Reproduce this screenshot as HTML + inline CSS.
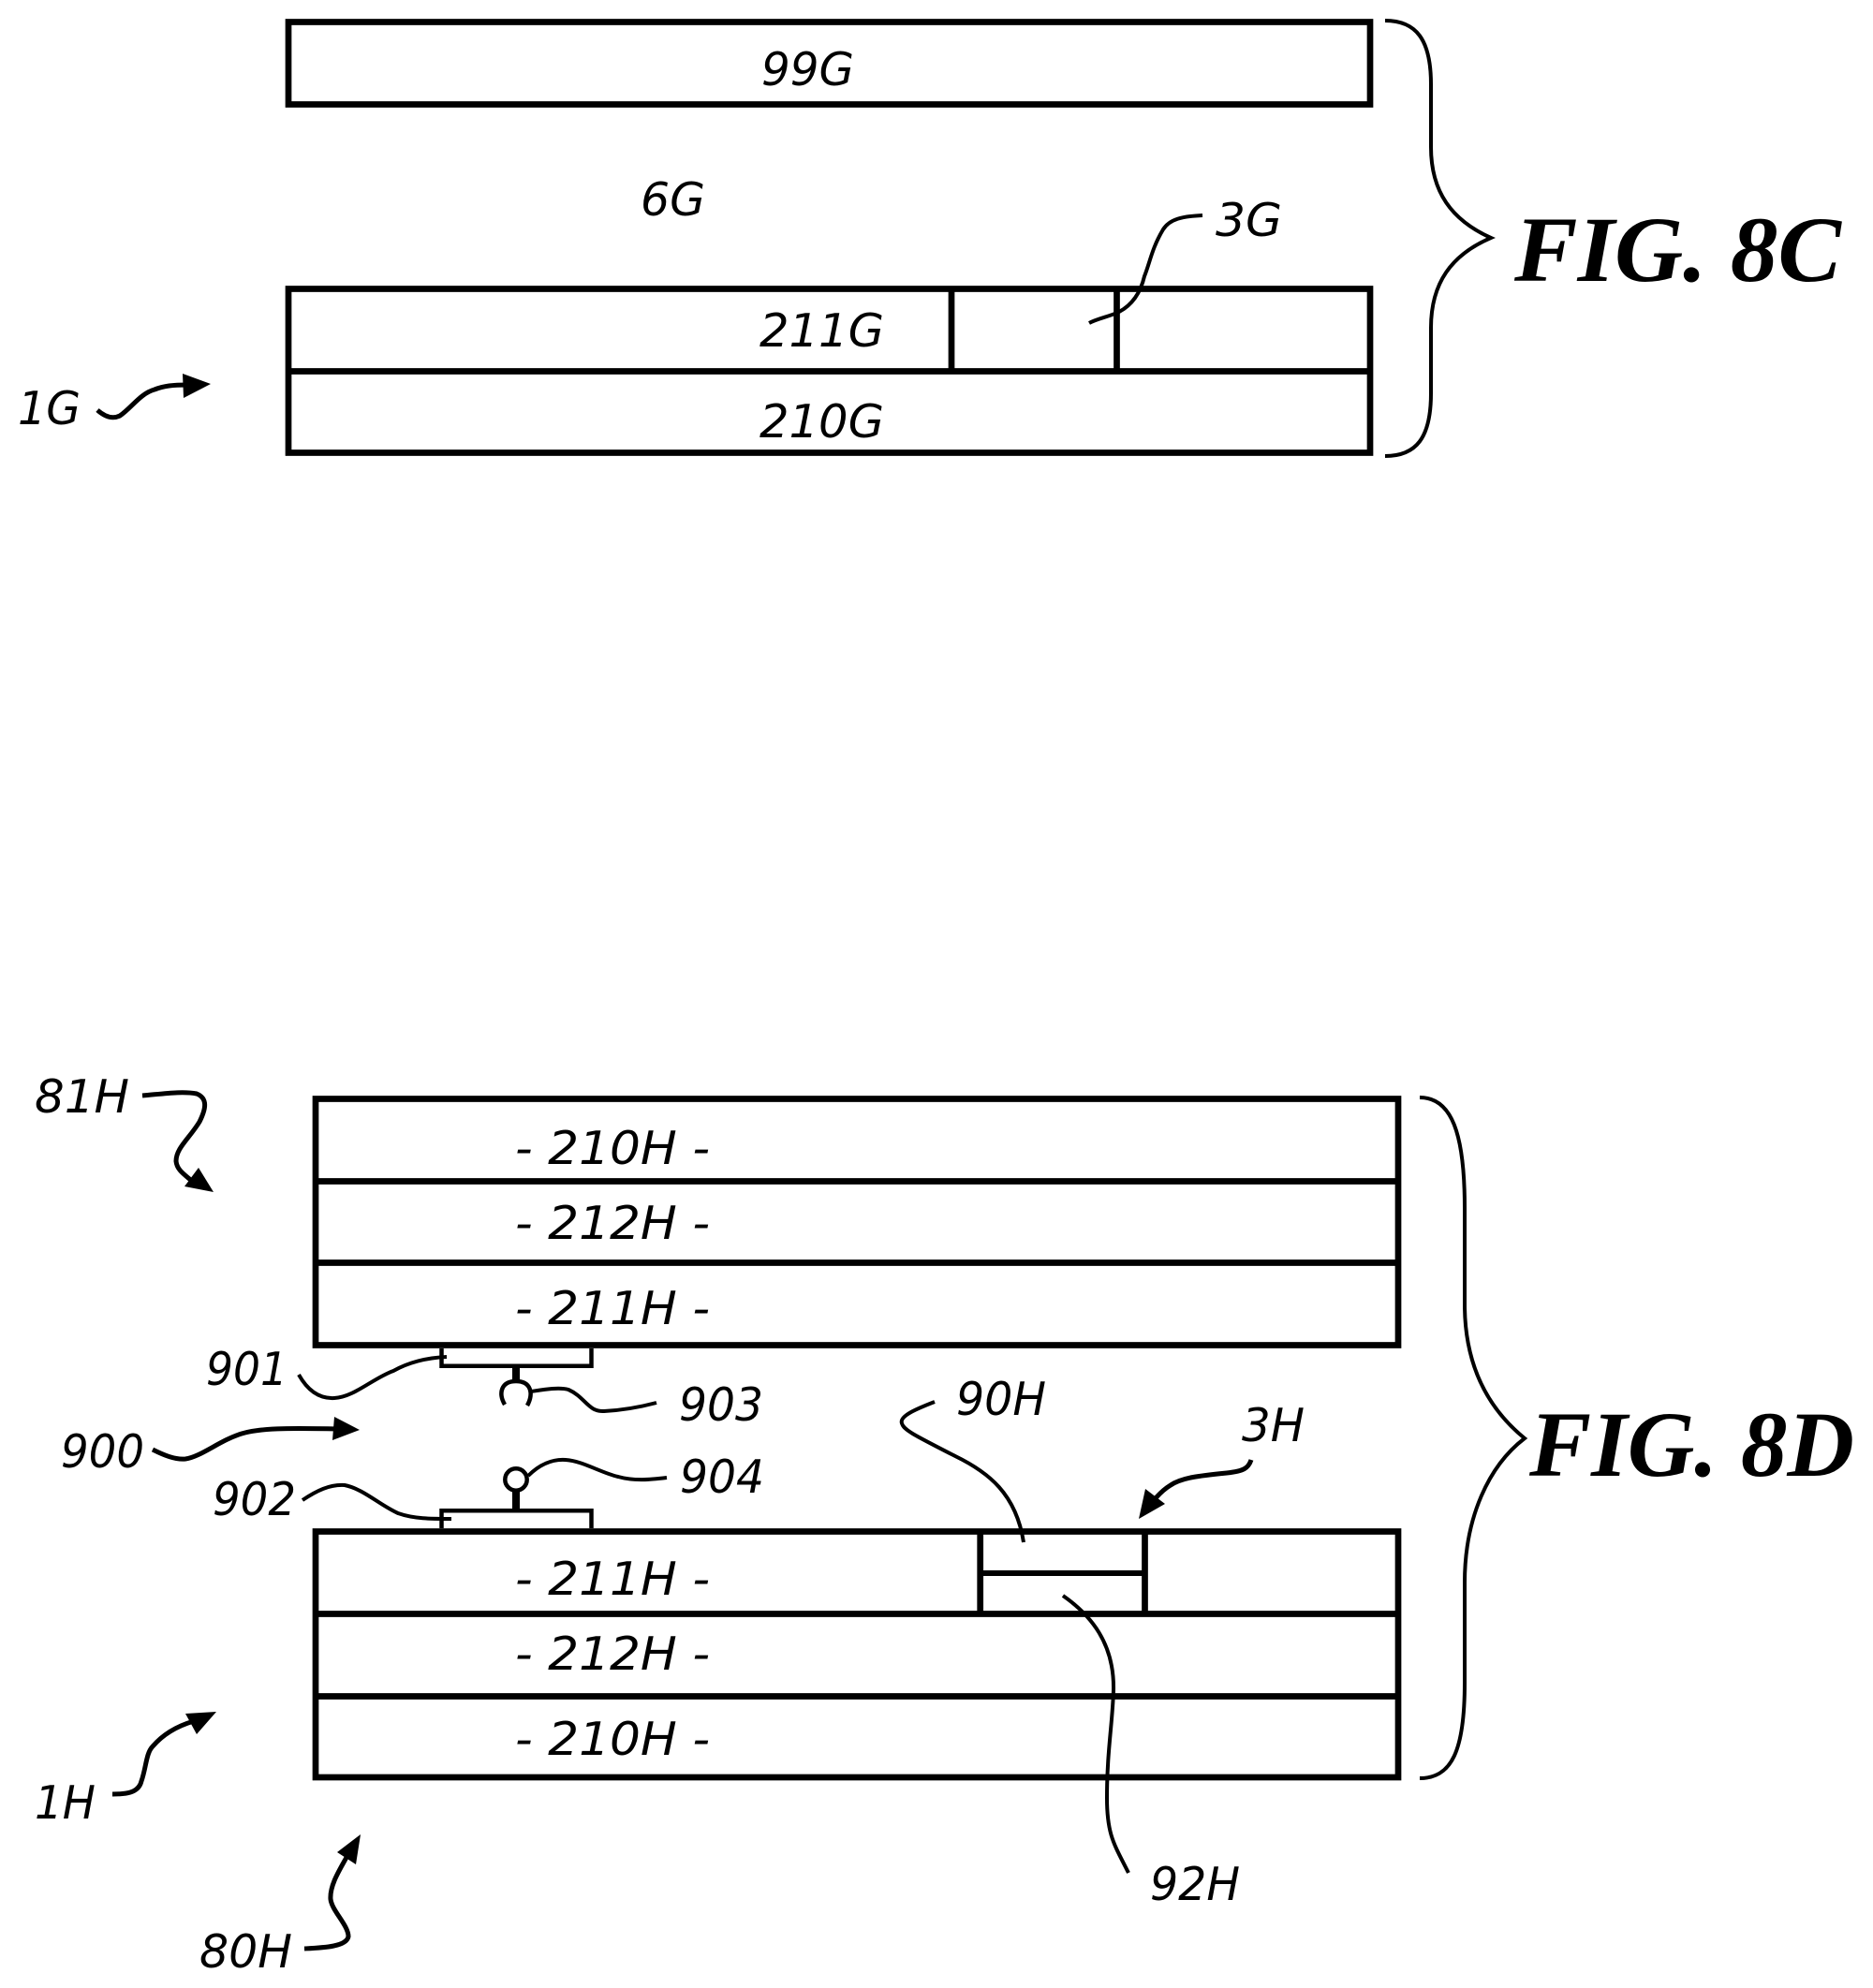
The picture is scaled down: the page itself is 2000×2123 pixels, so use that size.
<!DOCTYPE html>
<html lang="en">
<head>
<meta charset="utf-8">
<title>FIG. 8C and FIG. 8D</title>
<style>
html,body{margin:0;padding:0;background:#fff;width:2000px;height:2123px;overflow:hidden}
svg{position:absolute;left:0;top:0;display:block}
.b{fill:none;stroke:#000;stroke-width:6.7}
.p{fill:none;stroke:#000;stroke-width:4.5}
.l{fill:none;stroke:#000;stroke-width:4;stroke-linecap:butt}
.a{fill:none;stroke:#000;stroke-width:5;stroke-linecap:butt}
.t{font-family:"DejaVu Sans",sans-serif;font-style:oblique;font-size:49px;fill:#000}
.f{font-family:"Liberation Serif",serif;font-style:italic;font-weight:bold;font-size:100px;fill:#000}
</style>
</head>
<body>
<svg xmlns="http://www.w3.org/2000/svg" width="2000" height="2123" viewBox="0 0 2000 2123">
<rect width="2000" height="2123" fill="#fff"/>

<!-- FIG 8C boxes -->
<rect class="b" x="308" y="23.5" width="1155" height="88"/>
<rect class="b" x="308" y="308.5" width="1155" height="175"/>
<path class="b" d="M308 396.5H1463M1016 308.5V396.5M1192.5 308.5V396.5"/>

<!-- FIG 8C brace -->
<path class="l" d="M1479 22C1512 22 1528 42 1528 90L1528 157C1528 205 1550 235 1592 254C1550 272 1528 302 1528 350L1528 420C1528 468 1512 487 1479 487"/>

<!-- FIG 8C labels -->
<text class="t" x="813" y="91" textLength="99" lengthAdjust="spacingAndGlyphs">99G</text>
<text class="t" x="684" y="230" textLength="69" lengthAdjust="spacingAndGlyphs">6G</text>
<text class="t" x="811" y="370" textLength="133" lengthAdjust="spacingAndGlyphs">211G</text>
<text class="t" x="811" y="467" textLength="133" lengthAdjust="spacingAndGlyphs">210G</text>
<text class="t" x="19" y="453" textLength="67" lengthAdjust="spacingAndGlyphs">1G</text>
<text class="t" x="1298" y="252" textLength="71" lengthAdjust="spacingAndGlyphs">3G</text>
<text class="f" x="1617" y="300" textLength="349" lengthAdjust="spacingAndGlyphs">FIG. 8C</text>

<!-- 1G arrow -->
<path class="a" d="M104 438C112 445 120 448 128 444C140 436 150 420 165 416C175 412 185 411 200 411"/>
<polygon points="225,410 195,399 196,425" fill="#000"/>

<!-- 3G leader -->
<path class="l" d="M1284 230C1262 231 1249 234 1242 245C1230 265 1228 280 1222 295C1218 312 1210 325 1195 333C1185 338 1172 340 1163 345"/>

<!-- FIG 8D upper stack -->
<rect class="b" x="337" y="1173.5" width="1156" height="263"/>
<path class="b" d="M337 1261.5H1493M337 1348.5H1493"/>

<!-- FIG 8D lower stack -->
<rect class="b" x="337" y="1635.5" width="1156" height="262.5"/>
<path class="b" d="M337 1723.5H1493M337 1811.5H1493"/>
<path class="b" d="M1046.7 1635.5V1723.5M1222.5 1635.5V1723.5"/>
<path fill="none" stroke="#000" stroke-width="6" d="M1046.7 1680H1222.5"/>

<!-- Upper pad, stem, hook -->
<path class="p" d="M471.5 1440V1458.7H631.5V1440"/>
<rect x="547" y="1460" width="8" height="15" fill="#000"/>
<path fill="none" stroke="#000" stroke-width="4.5" d="M539 1500C532 1488 535 1475 551 1475C567 1475 570 1488 563 1501"/>

<!-- Lower pad, stem, circle -->
<path class="p" d="M471.5 1632V1613.3H631.5V1632"/>
<rect x="547" y="1592" width="8" height="20" fill="#000"/>
<circle cx="551" cy="1580" r="11.7" fill="#fff" stroke="#000" stroke-width="4.5"/>

<!-- FIG 8D brace -->
<path class="l" d="M1516 1172C1550 1172 1564 1210 1564 1290L1564 1393C1564 1460 1590 1505 1628 1536C1590 1565 1564 1620 1564 1690L1564 1797C1564 1870 1550 1899 1516 1899"/>

<!-- Leaders and arrows -->
<path class="a" d="M152 1170C175 1168 195 1165 210 1168C222 1173 220 1184 213 1198C202 1216 188 1226 188 1240C189 1250 197 1254 208 1264"/>
<polygon points="228,1273 212,1247 197,1267" fill="#000"/>

<path class="l" d="M319 1468C328 1484 340 1494 357 1493C378 1492 398 1472 420 1464C436 1455 455 1450 477 1449"/>
<path class="l" d="M567 1486C580 1484 597 1481 607 1484C625 1492 628 1508 645 1507C665 1506 682 1503 701 1498"/>

<path class="a" d="M163 1548C175 1554 187 1559 198 1558C214 1556 235 1538 258 1531C278 1525 305 1525 362 1526"/>
<polygon points="384,1527 357,1513 355,1538" fill="#000"/>

<path class="l" d="M323 1602C338 1592 352 1585 368 1586C388 1590 405 1607 425 1616C442 1622 460 1622 482 1622"/>
<path class="l" d="M564 1576C576 1564 590 1558 604 1559C622 1560 642 1573 660 1577C678 1582 695 1580 712 1578"/>

<path class="a" d="M120 1916C134 1916 148 1915 151 1902C156 1888 156 1872 163 1865C175 1851 190 1843 207 1838"/>
<polygon points="231,1828 198,1830 210,1852" fill="#000"/>

<path class="a" d="M325 2081C345 2080 370 2079 372 2068C372 2056 354 2040 353 2028C352 2012 364 1995 373 1978"/>
<polygon points="385,1959 360,1978 380,1991" fill="#000"/>

<path class="l" d="M998 1497C980 1504 960 1512 963 1520C965 1527 975 1532 1020 1555C1055 1572 1085 1595 1093 1647"/>
<path class="l" d="M1135 1704C1165 1725 1190 1755 1189 1805C1188 1840 1182 1870 1182 1920C1182 1960 1190 1970 1205 2000"/>

<path class="a" d="M1336 1559C1333 1568 1328 1571 1310 1573C1280 1576 1262 1578 1250 1586C1240 1592 1236 1598 1232 1602"/>
<polygon points="1216,1622 1223,1590 1244,1606" fill="#000"/>

<!-- FIG 8D labels -->
<text class="t" x="37" y="1188" textLength="101" lengthAdjust="spacingAndGlyphs">81H</text>
<text class="t" x="550" y="1243" textLength="208" lengthAdjust="spacingAndGlyphs">- 210H -</text>
<text class="t" x="550" y="1323" textLength="208" lengthAdjust="spacingAndGlyphs">- 212H -</text>
<text class="t" x="550" y="1414" textLength="208" lengthAdjust="spacingAndGlyphs">- 211H -</text>
<text class="t" x="220" y="1479" textLength="87" lengthAdjust="spacingAndGlyphs">901</text>
<text class="t" x="725" y="1517" textLength="90" lengthAdjust="spacingAndGlyphs">903</text>
<text class="t" x="65" y="1567" textLength="89" lengthAdjust="spacingAndGlyphs">900</text>
<text class="t" x="726" y="1594" textLength="90" lengthAdjust="spacingAndGlyphs">904</text>
<text class="t" x="227" y="1618" textLength="89" lengthAdjust="spacingAndGlyphs">902</text>
<text class="t" x="1021" y="1511" textLength="96" lengthAdjust="spacingAndGlyphs">90H</text>
<text class="t" x="1326" y="1539" textLength="67" lengthAdjust="spacingAndGlyphs">3H</text>
<text class="t" x="550" y="1703" textLength="208" lengthAdjust="spacingAndGlyphs">- 211H -</text>
<text class="t" x="550" y="1783" textLength="208" lengthAdjust="spacingAndGlyphs">- 212H -</text>
<text class="t" x="550" y="1874" textLength="208" lengthAdjust="spacingAndGlyphs">- 210H -</text>
<text class="t" x="37" y="1942" textLength="65" lengthAdjust="spacingAndGlyphs">1H</text>
<text class="t" x="1228" y="2029" textLength="96" lengthAdjust="spacingAndGlyphs">92H</text>
<text class="t" x="213" y="2101" textLength="99" lengthAdjust="spacingAndGlyphs">80H</text>
<text class="f" x="1633" y="1576" textLength="347" lengthAdjust="spacingAndGlyphs">FIG. 8D</text>
</svg>
</body>
</html>
